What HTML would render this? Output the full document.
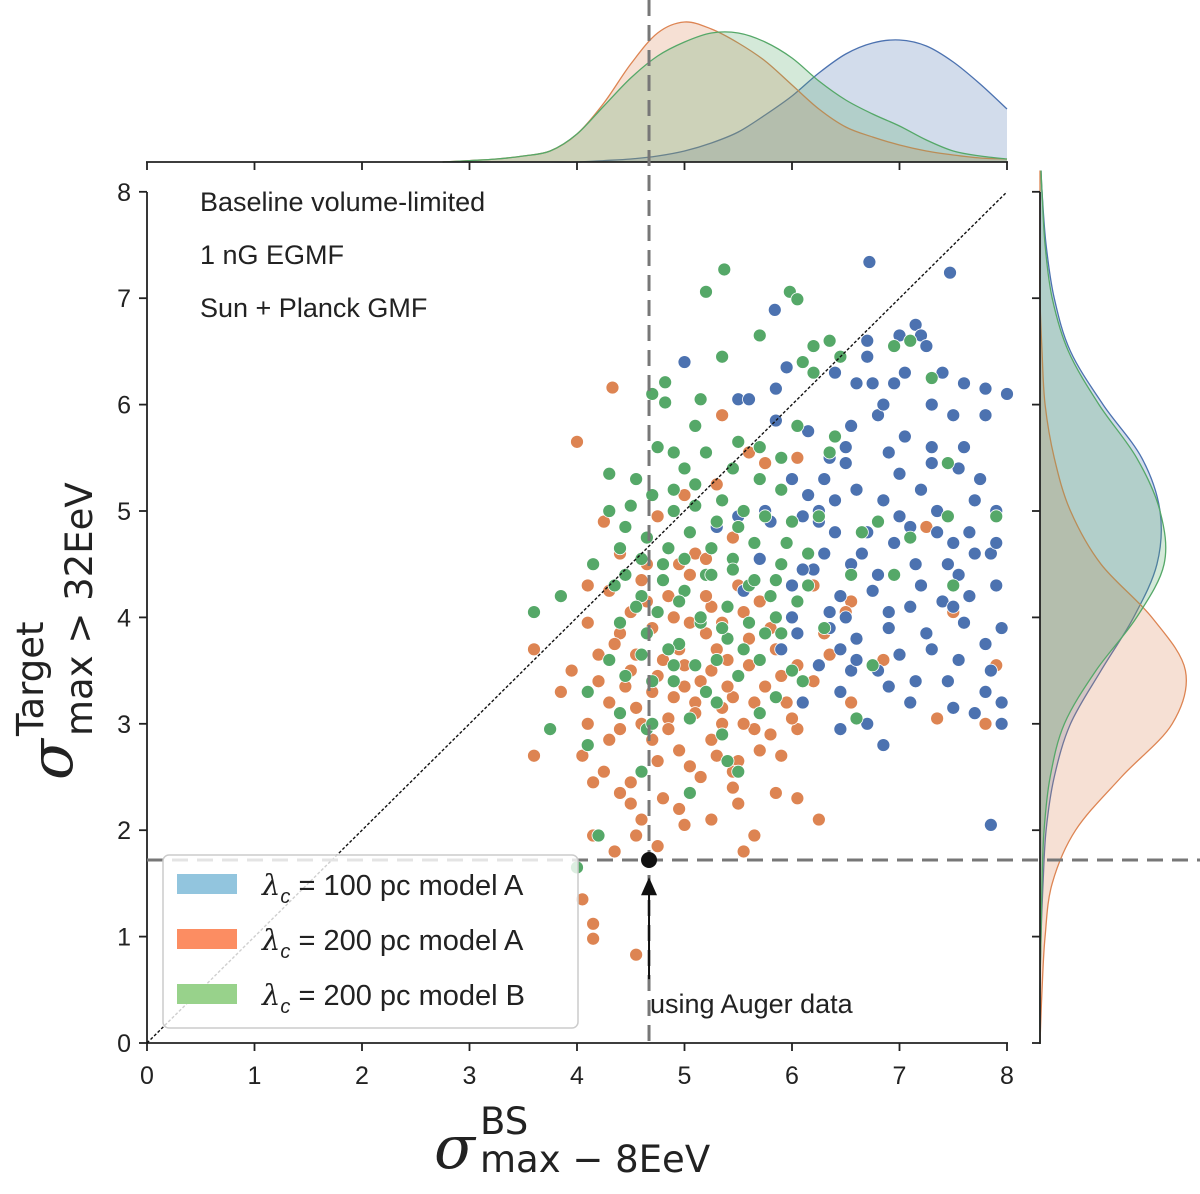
<!DOCTYPE html>
<html><head><meta charset="utf-8"><style>
html,body{margin:0;padding:0;background:#fff;}
svg{display:block;font-family:"Liberation Sans","DejaVu Sans",sans-serif;}
</style></head><body>
<svg id="chart" width="1200" height="1194" viewBox="0 0 1200 1194" xmlns="http://www.w3.org/2000/svg">
<g id="marg-top"></g>
<g id="marg-right"></g>
<g id="points"></g>
<g id="axes"></g>
<g id="overlay"></g>
<g font-size="27" fill="#222">
<text x="200" y="211">Baseline volume-limited</text>
<text x="200" y="264">1 nG EGMF</text>
<text x="200" y="317">Sun + Planck GMF</text>
<text x="650" y="1013">using Auger data</text>
</g>
<g>
<rect x="163" y="855" width="415" height="173" rx="6" fill="#fff" fill-opacity="0.8" stroke="#ccc" stroke-width="1.5"/>
<rect x="177" y="874" width="60" height="20" fill="#92c5de"/>
<rect x="177" y="929" width="60" height="20" fill="#fc8d62"/>
<rect x="177" y="984" width="60" height="20" fill="#98d28b"/>
<g font-size="29" fill="#222">
<text x="262" y="895"><tspan font-style="italic" font-family="DejaVu Serif, serif">λ</tspan><tspan font-size="20" dy="8" font-style="italic">c</tspan><tspan dy="-8"> = 100 pc model A</tspan></text>
<text x="262" y="950"><tspan font-style="italic" font-family="DejaVu Serif, serif">λ</tspan><tspan font-size="20" dy="8" font-style="italic">c</tspan><tspan dy="-8"> = 200 pc model A</tspan></text>
<text x="262" y="1005"><tspan font-style="italic" font-family="DejaVu Serif, serif">λ</tspan><tspan font-size="20" dy="8" font-style="italic">c</tspan><tspan dy="-8"> = 200 pc model B</tspan></text>
</g>
</g>
<g fill="#222">
<text x="434" y="1168" font-size="60" font-style="italic" font-family="DejaVu Serif, serif">σ</text>
<text x="480" y="1134" font-size="37" font-family="DejaVu Sans, sans-serif">BS</text>
<text x="480" y="1172" font-size="37" font-family="DejaVu Sans, sans-serif">max − 8EeV</text>
</g>
<g fill="#222" transform="translate(72,780) rotate(-90)">
<text x="0" y="0" font-size="60" font-style="italic" font-family="DejaVu Serif, serif">σ</text>
<text x="44" y="-29" font-size="37" font-family="DejaVu Sans, sans-serif">Target</text>
<text x="44" y="20" font-size="37" font-family="DejaVu Sans, sans-serif">max &gt; 32EeV</text>
</g>
</svg>
<script>
const blueX=[6.72,7.47,5.84,5.0,5.95,6.7,7.0,7.15,6.7,7.05,7.2,7.25,7.4,6.6,6.75,6.95,5.5,5.6,5.85,7.5,7.8,7.8,8.0,6.15,6.5,6.9,7.3,7.55,7.0,6.4,6.6,7.2,7.35,7.7,7.9,6.1,6.25,6.7,6.95,7.1,7.5,7.85,6.3,6.55,6.8,7.2,7.45,7.65,7.9,6.0,6.45,6.9,7.1,7.6,7.95,6.35,6.6,7.3,7.55,7.85,6.0,5.9,6.25,6.55,6.9,7.0,7.15,7.95,7.5,7.8,6.1,6.7,7.95,6.45,6.85,7.85,5.7,5.5,5.3,6.35,6.0,5.75,6.8,7.65,5.85,6.4,7.3,5.55,
6.3,6.5,6.85,7.05,7.3,7.6,7.75,6.15,6.4,6.65,7.0,7.35,7.55,7.9,6.2,6.5,6.75,7.15,7.4,7.7,6.05,6.35,6.6,6.9,7.25,7.5,7.8,6.45,6.8,7.1,7.45,7.7,5.95,6.25,6.55,6.85,7.6,5.8,6.1,6.45];
const blueY=[7.34,7.24,6.89,6.4,6.35,6.6,6.65,6.75,6.45,6.3,6.65,6.55,6.3,6.2,6.2,6.2,6.05,6.05,5.85,5.9,5.9,6.15,6.1,5.75,5.45,5.55,5.6,5.4,5.35,5.1,5.2,5.2,5.0,5.1,5.0,4.95,4.9,4.8,4.7,4.85,4.7,4.6,4.6,4.5,4.4,4.3,4.5,4.2,4.3,4.3,4.2,4.05,4.1,3.95,3.9,3.9,3.8,3.7,3.6,3.5,4.0,3.7,3.55,3.5,3.35,3.65,3.4,3.2,3.15,3.3,3.2,3.0,3.0,2.95,2.8,2.05,4.55,4.95,4.85,5.5,5.3,5.0,5.9,4.8,6.15,6.3,6.0,4.25,
5.3,5.6,5.1,5.7,5.45,5.6,5.3,5.15,4.8,4.6,4.95,4.8,4.4,4.7,4.45,4.0,4.25,4.5,4.15,4.6,3.85,4.05,3.6,3.9,3.85,4.1,3.75,3.3,3.5,3.2,3.4,3.1,4.7,5.0,5.8,6.0,6.2,4.9,4.45,3.7];
const orangeX=[4.33,4.0,5.35,5.6,5.75,6.05,5.3,5.0,4.25,4.4,4.75,5.1,5.45,6.55,7.25,4.1,4.3,4.6,4.85,5.05,5.25,5.5,5.7,6.2,6.5,4.1,4.4,4.7,4.95,5.2,5.4,5.6,5.85,6.05,6.35,6.85,7.5,3.6,4.2,4.5,4.75,5.0,5.25,5.45,5.75,5.95,6.2,3.95,3.85,4.3,4.55,4.85,5.1,5.35,5.65,6.05,6.55,7.35,4.1,4.4,4.7,4.95,5.25,5.5,5.7,5.9,3.6,4.05,4.25,4.5,4.8,5.15,5.45,4.15,4.4,4.6,4.95,5.25,5.5,5.85,6.05,6.25,4.55,4.35,4.75,5.55,5.65,4.15,4.05,4.15,4.15,4.55,7.8,7.9,
4.5,4.65,4.9,5.05,5.2,5.35,5.55,5.8,4.35,4.55,4.8,5.0,5.3,5.6,5.9,4.2,4.45,4.7,4.9,5.15,5.4,5.65,4.6,4.85,5.1,5.35,5.55,4.3,4.75,5.05,5.3,5.8,4.5,5.0,5.45,6.0,6.3,4.95,5.2,4.65];
const orangeY=[6.16,5.65,5.9,5.55,5.45,5.5,5.25,5.15,4.9,4.6,4.95,4.6,4.75,4.15,4.85,4.3,4.25,4.35,4.2,4.4,4.1,4.3,4.15,4.3,4.05,3.95,3.85,3.9,3.7,3.85,3.6,3.8,3.7,3.55,3.65,3.6,4.05,3.7,3.65,3.5,3.45,3.35,3.5,3.25,3.35,3.2,3.4,3.5,3.3,3.2,3.15,3.05,3.2,3.0,2.95,2.95,3.2,3.05,3.0,2.95,2.85,2.75,2.85,2.65,2.75,2.7,2.7,2.7,2.55,2.45,2.3,2.5,2.55,2.45,2.35,2.1,2.2,2.1,2.25,2.35,2.3,2.1,1.95,1.8,1.85,1.8,1.95,1.95,1.35,1.12,0.98,0.83,3.0,3.55,
4.05,4.15,4.0,3.95,4.2,3.95,4.05,3.9,3.75,3.65,3.6,3.55,3.7,3.55,3.45,3.4,3.35,3.3,3.25,3.4,3.35,3.2,3.0,2.95,3.1,3.15,3.0,2.85,2.65,2.6,2.7,2.9,2.25,2.05,2.4,3.05,3.85,4.5,4.55,4.5];
const greenX=[5.37,5.2,5.98,6.05,5.7,5.35,6.2,6.1,6.35,6.2,6.45,6.95,7.3,7.1,4.7,4.82,5.15,5.1,4.75,4.9,5.5,5.9,6.35,7.45,4.3,4.55,4.9,5.1,5.35,5.55,5.7,6.0,6.25,6.65,4.3,4.45,4.65,4.85,5.05,5.25,5.45,5.65,5.9,6.15,6.55,7.1,7.45,7.9,3.85,4.15,4.45,4.6,4.8,5.0,5.2,5.4,5.6,5.85,6.05,6.3,6.95,4.4,4.65,4.95,5.15,5.4,5.7,6.0,3.6,4.3,4.7,4.9,5.2,5.5,5.85,6.1,6.6,4.1,4.4,4.65,5.05,5.35,5.7,3.75,4.1,4.6,5.4,5.5,5.05,4.2,4.0,5.9,6.75,7.5,6.8,6.4,6.05,4.82,
4.5,4.7,4.9,5.1,5.3,5.5,5.75,5.95,4.4,4.6,4.8,5.0,5.25,5.45,5.65,5.85,4.55,4.75,4.95,5.15,5.35,5.6,5.8,4.35,4.6,4.85,5.1,5.3,5.55,5.75,5.0,5.2,5.45,5.7,4.9,5.3,4.7,4.45,5.9,6.15];
const greenY=[7.27,7.06,7.06,6.99,6.65,6.45,6.55,6.4,6.6,6.3,6.45,6.55,6.25,6.6,6.1,6.02,6.05,5.8,5.6,5.55,5.65,5.5,5.55,5.45,5.35,5.3,5.2,5.25,5.1,5.0,5.3,4.9,4.95,4.8,5.0,4.85,4.75,4.65,4.8,4.65,4.55,4.7,4.5,4.6,4.4,4.75,4.95,4.95,4.2,4.5,4.4,4.2,4.35,4.25,4.4,4.1,4.3,4.0,4.15,3.9,4.4,3.95,3.85,3.75,3.95,3.8,3.6,3.5,4.05,3.6,3.4,3.55,3.3,3.45,3.25,3.4,3.05,3.3,3.1,2.95,3.05,2.9,3.1,2.95,2.8,2.55,2.65,2.55,2.35,1.95,1.65,3.85,3.55,4.3,4.9,5.7,5.8,6.21,
5.05,5.15,5.0,5.05,4.9,4.85,4.95,4.7,4.65,4.55,4.5,4.55,4.4,4.45,4.35,4.35,4.1,4.05,4.15,4.0,3.9,3.95,4.2,4.3,3.65,3.7,3.55,3.6,3.7,3.85,5.4,5.55,5.4,5.6,3.4,3.2,3.0,3.45,5.2,4.3];
// marginal KDE values
const topGrid=[2.75,3,3.25,3.5,3.75,4,4.25,4.5,4.75,5,5.25,5.5,5.75,6,6.25,6.5,6.75,7,7.25,7.5,7.75,8];
const topOrange=[0,0.0014,0.003,0.006,0.011,0.028,0.059,0.098,0.129,0.14,0.133,0.119,0.101,0.077,0.053,0.035,0.025,0.017,0.011,0.007,0.004,0.003];
const topGreen=[0,0.0014,0.003,0.006,0.011,0.028,0.056,0.084,0.106,0.12,0.129,0.129,0.12,0.104,0.081,0.062,0.048,0.036,0.022,0.011,0.006,0.003];
const topBlue=[0,0,0,0,0,0,0.0014,0.003,0.006,0.011,0.019,0.03,0.047,0.066,0.089,0.108,0.119,0.122,0.116,0.1,0.078,0.053];
const rightGrid=[0,0.5,1,1.5,2,2.5,3,3.5,4,4.5,5,5.5,6,6.5,7,7.5,8,8.2];
const rightOrange=[0,0.002,0.005,0.012,0.035,0.08,0.13,0.143,0.11,0.06,0.03,0.014,0.005,0.002,0,0,0,0];
const rightBlue=[0,0,0.001,0.003,0.006,0.014,0.03,0.06,0.092,0.115,0.118,0.1,0.062,0.03,0.014,0.006,0.002,0.001];
const rightGreen=[0,0,0.001,0.002,0.004,0.01,0.024,0.055,0.095,0.122,0.118,0.095,0.058,0.028,0.012,0.005,0.002,0.001];
const xTicks=[0,1,2,3,4,5,6,7,8];
const yTicks=[0,1,2,3,4,5,6,7,8];
const augerX=[4.67], augerY=[1.72];

const NS='http://www.w3.org/2000/svg';
const sx=v=>147+v*107.5;
const sy=v=>1043-v*106.4;
const dTop=v=>162-v*1000;
const dRight=v=>1040+v*(120/0.118);
function mk(tag,attrs,parent){const e=document.createElementNS(NS,tag);for(const k in attrs)e.setAttribute(k,attrs[k]);parent.appendChild(e);return e;}
function smooth(pts){let d='M'+pts[0][0]+','+pts[0][1];for(let i=0;i<pts.length-1;i++){const p0=pts[i-1]||pts[i],p1=pts[i],p2=pts[i+1],p3=pts[i+2]||p2;const c1=[p1[0]+(p2[0]-p0[0])/6,p1[1]+(p2[1]-p0[1])/6],c2=[p2[0]-(p3[0]-p1[0])/6,p2[1]-(p3[1]-p1[1])/6];d+='C'+c1[0]+','+c1[1]+' '+c2[0]+','+c2[1]+' '+p2[0]+','+p2[1];}return d;}
const topG=document.getElementById('marg-top');
[[topBlue,'#4c72b0','rgba(76,114,176,0.25)','top-kde-100A'],[topOrange,'#dd8452','rgba(221,132,82,0.25)','top-kde-200A'],[topGreen,'#55a868','rgba(85,168,104,0.25)','top-kde-200B']].forEach(([vals,c,f,n])=>{
 const pts=topGrid.map((g,i)=>[sx(g),dTop(vals[i])]);
 const d=smooth(pts);
 const p=mk('path',{d:d+'L'+sx(topGrid[topGrid.length-1])+',162L'+sx(topGrid[0])+',162Z',fill:f,stroke:'none'},topG);
 
 
 const l=mk('path',{d:d,fill:'none',stroke:c,'stroke-width':1.3},topG);
 
 
});
const rG=document.getElementById('marg-right');
[[rightBlue,'#4c72b0','rgba(76,114,176,0.25)','right-kde-100A'],[rightOrange,'#dd8452','rgba(221,132,82,0.25)','right-kde-200A'],[rightGreen,'#55a868','rgba(85,168,104,0.25)','right-kde-200B']].forEach(([vals,c,f,n])=>{
 const pts=rightGrid.map((g,i)=>[dRight(vals[i]),sy(g)]);
 const d=smooth(pts);
 const p=mk('path',{d:d+'L1040,'+sy(rightGrid[rightGrid.length-1])+'L1040,'+sy(0)+'Z',fill:f,stroke:'none'},rG);
 
 
 const l=mk('path',{d:d,fill:'none',stroke:c,'stroke-width':1.3},rG);
 
 
});
const ptsG=document.getElementById('points');
[[orangeX,orangeY,'#dd8452','point-200A'],[blueX,blueY,'#4c72b0','point-100A'],[greenX,greenY,'#55a868','point-200B']].forEach(([xs,ys,c,n])=>{
 xs.forEach((x,i)=>{const e=mk('circle',{cx:sx(x),cy:sy(ys[i]),r:6.5,fill:c,stroke:'#fff','stroke-width':0.8},ptsG);
 
 });
});
const ax=document.getElementById('axes');
const st={stroke:'#222','stroke-width':1.8};
let e;
e=mk('line',Object.assign({x1:147,y1:192,x2:147,y2:1044},st),ax);


e=mk('line',Object.assign({x1:146,y1:1043,x2:1008,y2:1043},st),ax);


e=mk('line',Object.assign({x1:146,y1:162,x2:1008,y2:162},st),ax);


e=mk('line',Object.assign({x1:1040,y1:192,x2:1040,y2:1044},st),ax);


xTicks.forEach(t=>{
 mk('line',Object.assign({x1:sx(t),y1:1043,x2:sx(t),y2:1051},st),ax);
 mk('line',Object.assign({x1:sx(t),y1:162,x2:sx(t),y2:170},st),ax);
 const tx=mk('text',{x:sx(t),y:1084,'font-size':25,'text-anchor':'middle',fill:'#222'},ax);tx.textContent=t;
 
 
});
yTicks.forEach(t=>{
 mk('line',Object.assign({x1:139,y1:sy(t),x2:147,y2:sy(t)},st),ax);
 mk('line',Object.assign({x1:1032,y1:sy(t),x2:1040,y2:sy(t)},st),ax);
 const tx=mk('text',{x:131,y:sy(t)+9,'font-size':25,'text-anchor':'end',fill:'#222'},ax);tx.textContent=t;
 
 
});
const ov=document.getElementById('overlay');
e=mk('line',{x1:sx(0),y1:sy(0),x2:sx(8),y2:sy(8),stroke:'#111','stroke-width':1.4,'stroke-dasharray':'3,2'},ov);


e=mk('line',{x1:sx(augerX[0]),y1:0,x2:sx(augerX[0]),y2:1043,stroke:'#777','stroke-width':3,'stroke-dasharray':'16,9'},ov);


e=mk('line',{x1:147,y1:sy(augerY[0]),x2:1200,y2:sy(augerY[0]),stroke:'#777','stroke-width':3,'stroke-dasharray':'16,9'},ov);


e=mk('line',{x1:sx(augerX[0]),y1:sy(0.6),x2:sx(augerX[0]),y2:sy(augerY[0]-0.25),stroke:'#111','stroke-width':2},ov);


const ax0=sx(augerX[0]),ay0=sy(augerY[0]-0.2);
e=mk('polygon',{points:`${ax0},${ay0-4} ${ax0-8},${ay0+14} ${ax0+8},${ay0+14}`,fill:'#111'},ov);


e=mk('circle',{cx:sx(augerX[0]),cy:sy(augerY[0]),r:8,fill:'#111'},ov);


</script>
</body></html>
